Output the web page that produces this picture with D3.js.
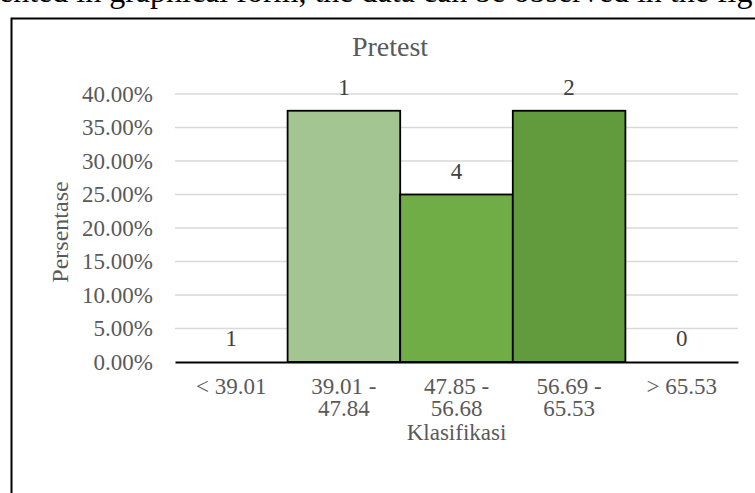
<!DOCTYPE html>
<html>
<head>
<meta charset="utf-8">
<script src="https://cdn.jsdelivr.net/npm/d3@7"></script>
<style>
  html, body { margin: 0; padding: 0; background: #fff; }
  svg { display: block; }
  text { font-family: "Liberation Serif", "Times New Roman", serif; }
</style>
</head>
<body>
<svg id="chart" width="755" height="493"></svg>
<script>
// ---- data ----
const categories = ["< 39.01", "39.01 - 47.84", "47.85 - 56.68", "56.69 - 65.53", "> 65.53"];
const categoryLines = [["< 39.01"], ["39.01 -", "47.84"], ["47.85 -", "56.68"], ["56.69 -", "65.53"], ["> 65.53"]];
const percentages = [0, 0.375, 0.25, 0.375, 0];
const dataLabels = ["1", "1", "4", "2", "0"];
const barColors = ["#A9D18E", "#A2C591", "#70AD47", "#629A3E", "#507E32"];
const yTicks = [0, 0.05, 0.10, 0.15, 0.20, 0.25, 0.30, 0.35, 0.40];
const chartTitle = "Pretest";
const xTitle = "Klasifikasi";
const yTitle = "Persentase";
const captionText = "ented in graphical form, the data can be observed in the fig";

const svg = d3.select("#chart");
const W = 755, H = 493;
const plot = { left: 175, right: 738, top: 94, bottom: 362 };
const textColor = "#595959";

// cut-off paragraph text above the chart
svg.append("text")
  .attr("x", -1).attr("y", 2)
  .attr("font-size", 32).attr("fill", "#000")
  .text(captionText);

// chart frame
svg.append("rect")
  .attr("x", 11.5).attr("y", 18.5)
  .attr("width", W + 20).attr("height", H + 20)
  .attr("fill", "#fff").attr("stroke", "#000").attr("stroke-width", 2);

const x = d3.scaleBand().domain(categories).range([plot.left, plot.right]).padding(0);
const y = d3.scaleLinear().domain([0, 0.4]).range([plot.bottom, plot.top]);

// gridlines
svg.append("g")
  .selectAll("line")
  .data(yTicks.filter(d => d > 0))
  .join("line")
  .attr("x1", plot.left).attr("x2", plot.right)
  .attr("y1", d => y(d)).attr("y2", d => y(d))
  .attr("stroke", "#D9D9D9").attr("stroke-width", 1.5);

// y axis labels
const yAxis = d3.axisLeft(y).tickValues(yTicks).tickFormat(d3.format(".2%")).tickSize(0).tickPadding(22);
const gy = svg.append("g").attr("transform", `translate(${plot.left},0)`).call(yAxis);
gy.select(".domain").remove();
gy.selectAll("text")
  .attr("font-family", "Liberation Serif")
  .attr("font-size", 23).attr("fill", textColor);

// bars
const idx = d3.range(categories.length);
svg.append("g")
  .selectAll("rect")
  .data(idx.filter(i => percentages[i] > 0))
  .join("rect")
  .attr("x", i => x(categories[i]))
  .attr("y", i => y(percentages[i]))
  .attr("width", x.bandwidth())
  .attr("height", i => y(0) - y(percentages[i]))
  .attr("fill", i => barColors[i])
  .attr("stroke", "#000").attr("stroke-width", 1.8);

// x axis line
const xAxis = d3.axisBottom(x).tickSize(0).tickFormat("");
const gx = svg.append("g").attr("transform", `translate(0,${plot.bottom})`).call(xAxis);
gx.select(".domain").attr("stroke", "#000").attr("stroke-width", 2.2);

// category labels (wrapped)
const catG = svg.append("g");
idx.forEach(i => {
  categoryLines[i].forEach((line, k) => {
    catG.append("text")
      .attr("x", x(categories[i]) + x.bandwidth() / 2)
      .attr("y", 394 + k * 22)
      .attr("text-anchor", "middle")
      .attr("font-size", 23).attr("fill", textColor)
      .text(line);
  });
});

// data labels
svg.append("g")
  .selectAll("text")
  .data(idx)
  .join("text")
  .attr("x", i => x(categories[i]) + x.bandwidth() / 2)
  .attr("y", i => y(percentages[i]) - 16)
  .attr("text-anchor", "middle")
  .attr("font-size", 23).attr("fill", "#404040")
  .text(i => dataLabels[i]);

// title
svg.append("text")
  .attr("x", 390).attr("y", 56)
  .attr("text-anchor", "middle")
  .attr("font-size", 28).attr("fill", textColor)
  .text(chartTitle);

// x title
svg.append("text")
  .attr("x", (plot.left + plot.right) / 2).attr("y", 440)
  .attr("text-anchor", "middle")
  .attr("font-size", 23).attr("fill", textColor)
  .text(xTitle);

// y title
svg.append("text")
  .attr("transform", `translate(68,${(plot.top + plot.bottom) / 2 + 4}) rotate(-90)`)
  .attr("text-anchor", "middle")
  .attr("font-size", 24).attr("fill", textColor)
  .text(yTitle);
</script>
</body>
</html>
